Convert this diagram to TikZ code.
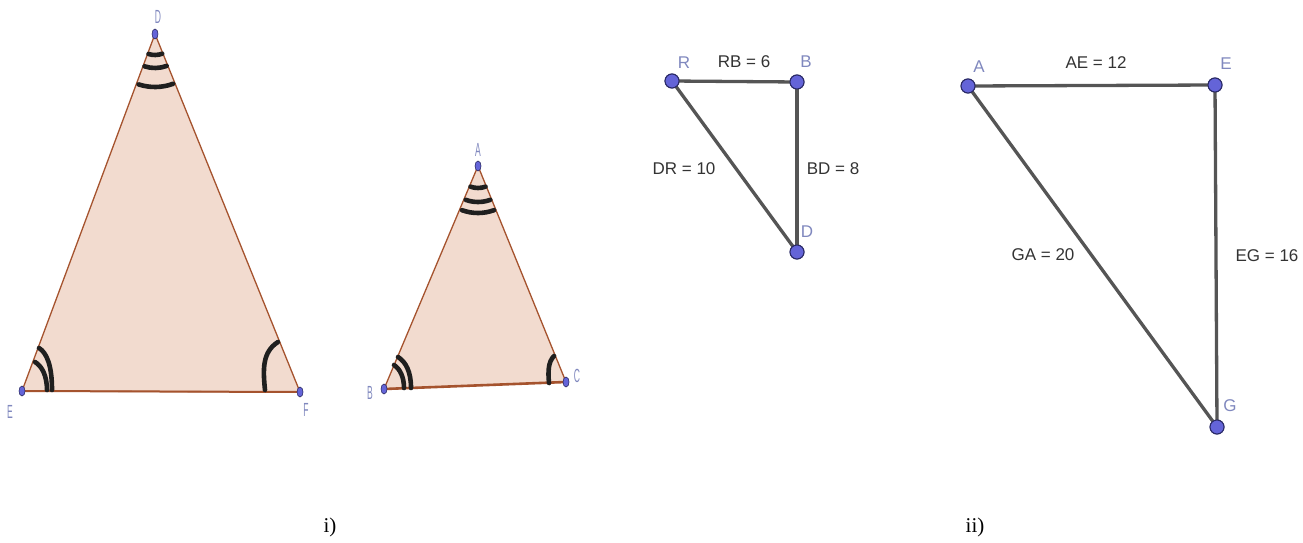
\documentclass[tikz,border=0pt]{standalone}
\usepackage{fontspec}
\setmainfont{Liberation Serif}
\setsansfont{Liberation Sans}
\usetikzlibrary{shapes.geometric}
\definecolor{tfill}{HTML}{F2DBCF}
\definecolor{tedge}{HTML}{A5532E}
\definecolor{ptfill}{HTML}{6464D8}
\definecolor{ptdraw}{HTML}{2A2A66}
\definecolor{ptname}{HTML}{8088BE}
\definecolor{segline}{HTML}{555555}
\definecolor{seglabel}{HTML}{333333}
\tikzset{
  edot/.style={ellipse,fill=ptfill,draw=ptdraw,line width=0.6pt,minimum width=6pt,minimum height=10pt,inner sep=0pt},
  cdot/.style={circle,fill=ptfill,draw=ptdraw,line width=1pt,minimum size=14pt,inner sep=0pt},
  tri/.style={fill=tfill,draw=tedge,line width=1.3pt,line join=round},
  seg/.style={draw=segline,line width=3.3pt},
  amark/.style={draw=black!88,line width=4.6pt,line cap=round},
  nname/.style={text=ptname,font=\sffamily\fontsize{19}{19}\selectfont,inner sep=0pt},
  sname/.style={text=ptname,font=\sffamily\fontsize{17}{17}\selectfont,inner sep=0pt},
  lenlab/.style={text=seglabel,font=\sffamily\fontsize{17}{17}\selectfont,inner sep=0pt},
  capt/.style={font=\fontsize{21}{21}\selectfont,inner sep=0pt}
}
\newcommand{\narrow}[1]{\scalebox{0.45}[1]{#1}}
\begin{document}
\begin{tikzpicture}[x=1pt,y=1pt]
\useasboundingbox (0,0) rectangle (1303,-543);
% ---------- figure i) ----------
\coordinate (D1) at (155,-34);
\coordinate (E1) at (22,-391);
\coordinate (F1) at (300,-392);
\coordinate (A1) at (478,-166);
\coordinate (B1) at (384,-389);
\coordinate (C1) at (566,-382);
\path[tri] (D1) -- (E1) -- (F1) -- cycle;
\draw[draw=tedge,line width=2pt] (E1) -- (F1);
\path[tri] (A1) -- (B1) -- (C1) -- cycle;
\draw[draw=tedge,line width=2.6pt] (B1) -- (C1);
% angle marks, big triangle
\foreach \r in {21,34,53}
  \draw[amark] ([shift={(252:\r)}]D1) arc[start angle=252,end angle=290,radius=\r];
\draw[amark] (52,-390) .. controls (52,-366) and (47,-353) .. (39,-348);
\draw[amark] (47,-390) .. controls (47,-376) and (42,-366) .. (35,-362);
\draw[amark] (265,-390) .. controls (263,-370) and (262,-352) .. (278,-342);
% angle marks, small triangle
\foreach \r in {22,36,47}
  \draw[amark] ([shift={(250:\r)}]A1) arc[start angle=250,end angle=290,radius=\r];
\draw[amark] (411,-388) .. controls (411,-372) and (406,-362) .. (398,-357);
\draw[amark] (404,-388) .. controls (404,-377) and (400,-369) .. (394,-365);
\draw[amark] (549,-383) .. controls (548,-372) and (548,-362) .. (554,-356);
% points
\node[edot] (D) at (D1) {};
\node[edot] (E) at (E1) {};
\node[edot] (F) at (F1) {};
\node[edot] (A) at (A1) {};
\node[edot] (B) at (B1) {};
\node[edot] (C) at (C1) {};
\node[nname] (lD) at (158,-17) {\narrow{D}};
\node[nname] (lE) at (10,-412) {\narrow{E}};
\node[nname] (lF) at (306,-410) {\narrow{F}};
\node[nname] (lA) at (478,-150) {\narrow{A}};
\node[nname] (lB) at (370,-393) {\narrow{B}};
\node[nname] (lC) at (577,-376) {\narrow{C}};
% ---------- figure ii) ----------
\node[cdot] (R) at (672,-81) {};
\node[cdot] (Bs) at (797,-82) {};
\node[cdot] (Ds) at (797,-252) {};
\draw[seg] (R.center) -- (Bs.center);
\draw[seg] (Bs.center) -- (Ds.center);
\draw[seg] (Ds.center) -- (R.center);
\node[cdot] at (R) {};
\node[cdot] at (Bs) {};
\node[cdot] at (Ds) {};
\node[sname] (lR) at (684,-63) {R};
\node[sname] (lBs) at (806,-62) {B};
\node[sname] (lDs) at (807,-232) {D};
\node[lenlab] (rb) at (744,-62) {RB = 6};
\node[lenlab] (dr) at (684,-169) {DR = 10};
\node[lenlab] (bd) at (833,-169) {BD = 8};
\node[cdot] (Al) at (968,-86) {};
\node[cdot] (El) at (1215,-85) {};
\node[cdot] (Gl) at (1217,-427) {};
\draw[seg] (Al.center) -- (El.center);
\draw[seg] (El.center) -- (Gl.center);
\draw[seg] (Gl.center) -- (Al.center);
\node[cdot] at (Al) {};
\node[cdot] at (El) {};
\node[cdot] at (Gl) {};
\node[sname] (lAl) at (979,-67) {A};
\node[sname] (lEl) at (1226,-64) {E};
\node[sname] (lGl) at (1230,-406) {G};
\node[lenlab] (ae) at (1096,-63) {AE = 12};
\node[lenlab] (ga) at (1043,-255) {GA = 20};
\node[lenlab] (eg) at (1267,-256) {EG = 16};
% captions
\node[capt] (c1) at (330,-527) {i)};
\node[capt] (c2) at (975,-527) {ii)};
\end{tikzpicture}
\end{document}
